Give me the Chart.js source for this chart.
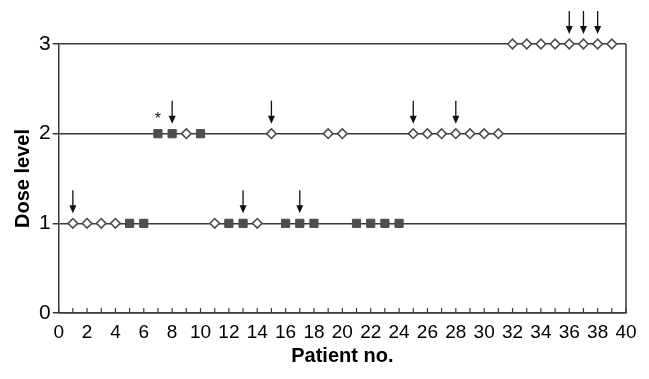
<!DOCTYPE html>
<html>
<head>
<meta charset="utf-8">
<script src="https://cdn.jsdelivr.net/npm/chart.js@4"></script>
<style>
  html, body { margin: 0; padding: 0; background: #fff; }
  #wrap { width: 649px; height: 379px; }
</style>
</head>
<body>
<div id="wrap"><canvas id="doseChart"></canvas></div>
<script>
// patient number and the dose level each one got
const patients = [1, 2, 3, 4, 5, 6, 7, 8, 9, 10, 11, 12, 13, 14, 15, 16, 17, 18, 19, 20,
  21, 22, 23, 24, 25, 26, 27, 28, 29, 30, 31, 32, 33, 34, 35, 36, 37, 38, 39]
const doseLevels = [1, 1, 1, 1, 1, 1, 2, 2, 2, 2, 1, 1, 1, 1, 2, 1, 1, 1, 2, 2,
  1, 1, 1, 1, 2, 2, 2, 2, 2, 2, 2, 3, 3, 3, 3, 3, 3, 3, 3]
// patients drawn as filled squares
const filledPatients = [5, 6, 7, 8, 10, 12, 13, 16, 17, 18, 21, 22, 23, 24]
// patients marked with an arrow / asterisk
const arrowPatients = [1, 8, 13, 15, 17, 25, 28, 36, 37, 38]
const starPatients = [7]
const doseTicks = [0, 1, 2, 3]

const lineColor = "#3a3a3a"
const markColor = "#4d4d4d"
const font = "'Liberation Sans', Arial, Helvetica, sans-serif"

const openPoints = []
const filledPoints = []
patients.forEach((p, i) => {
  const pt = { x: p, y: doseLevels[i] }
  if (filledPatients.includes(p)) filledPoints.push(pt)
  else openPoints.push(pt)
})

const doseOf = (p) => doseLevels[patients.indexOf(p)]

const extras = {
  id: "extras",
  afterDraw(chart) {
    const { ctx, chartArea, scales } = chart
    const x = scales.x
    const y = scales.y
    ctx.save()
    ctx.strokeStyle = lineColor
    ctx.lineWidth = 1.5

    // right border
    ctx.beginPath()
    ctx.moveTo(chartArea.right, chartArea.top)
    ctx.lineTo(chartArea.right, chartArea.bottom)
    ctx.stroke()

    // inward minor ticks on the x axis
    ctx.lineWidth = 1.2
    for (let v = x.min; v <= x.max; v++) {
      const px = x.getPixelForValue(v)
      ctx.beginPath()
      ctx.moveTo(px, chartArea.bottom)
      ctx.lineTo(px, chartArea.bottom - 5)
      ctx.stroke()
    }

    // arrows
    ctx.fillStyle = "#111"
    ctx.strokeStyle = "#111"
    ctx.lineWidth = 1.3
    arrowPatients.forEach((p) => {
      const px = x.getPixelForValue(p)
      const py = y.getPixelForValue(doseOf(p))
      ctx.beginPath()
      ctx.moveTo(px, py - 33)
      ctx.lineTo(px, py - 16)
      ctx.stroke()
      ctx.beginPath()
      ctx.moveTo(px - 3.5, py - 18)
      ctx.lineTo(px + 3.5, py - 18)
      ctx.lineTo(px, py - 10)
      ctx.closePath()
      ctx.fill()
    })

    // asterisks
    ctx.font = "16px " + font
    ctx.textAlign = "center"
    ctx.textBaseline = "middle"
    starPatients.forEach((p) => {
      const px = x.getPixelForValue(p)
      const py = y.getPixelForValue(doseOf(p))
      ctx.fillText("*", px, py - 14)
    })
    ctx.restore()
  }
}

new Chart(document.getElementById("doseChart"), {
  type: "scatter",
  data: {
    datasets: [
      {
        data: openPoints,
        pointStyle: "rectRot",
        pointRadius: 4.8,
        backgroundColor: "#fff",
        borderColor: markColor,
        borderWidth: 1.6,
        clip: false
      },
      {
        data: filledPoints,
        pointStyle: "rect",
        pointRadius: 5.8,
        backgroundColor: markColor,
        borderColor: markColor,
        borderWidth: 1,
        clip: false
      }
    ]
  },
  options: {
    responsive: true,
    maintainAspectRatio: false,
    animation: false,
    events: [],
    layout: { padding: { top: 44, right: 23, left: 11, bottom: 11 } },
    plugins: {
      legend: { display: false },
      tooltip: { enabled: false }
    },
    scales: {
      x: {
        type: "linear",
        min: 0,
        max: 40,
        grid: { display: false },
        border: { display: true, color: lineColor, width: 1.5 },
        ticks: {
          stepSize: 2,
          autoSkip: false,
          maxRotation: 0,
          padding: 2,
          color: "#000",
          font: { family: font, size: 19, lineHeight: 1 }
        },
        title: {
          display: true,
          text: "Patient no.",
          color: "#000",
          padding: { top: 0, bottom: 0 },
          font: { family: font, size: 20, weight: "bold" }
        }
      },
      y: {
        min: 0,
        max: 3,
        afterBuildTicks(scale) {
          scale.ticks = doseTicks.map((v) => ({ value: v }))
        },
        grid: {
          color: lineColor,
          lineWidth: 1.5,
          tickLength: 6
        },
        border: { display: true, color: lineColor, width: 1.5 },
        ticks: {
          padding: 2,
          color: "#000",
          font: { family: font, size: 21 }
        },
        title: {
          display: true,
          text: "Dose level",
          color: "#000",
          padding: { top: 0, bottom: 2 },
          font: { family: font, size: 20, weight: "bold" }
        }
      }
    }
  },
  plugins: [extras]
})
</script>
</body>
</html>
